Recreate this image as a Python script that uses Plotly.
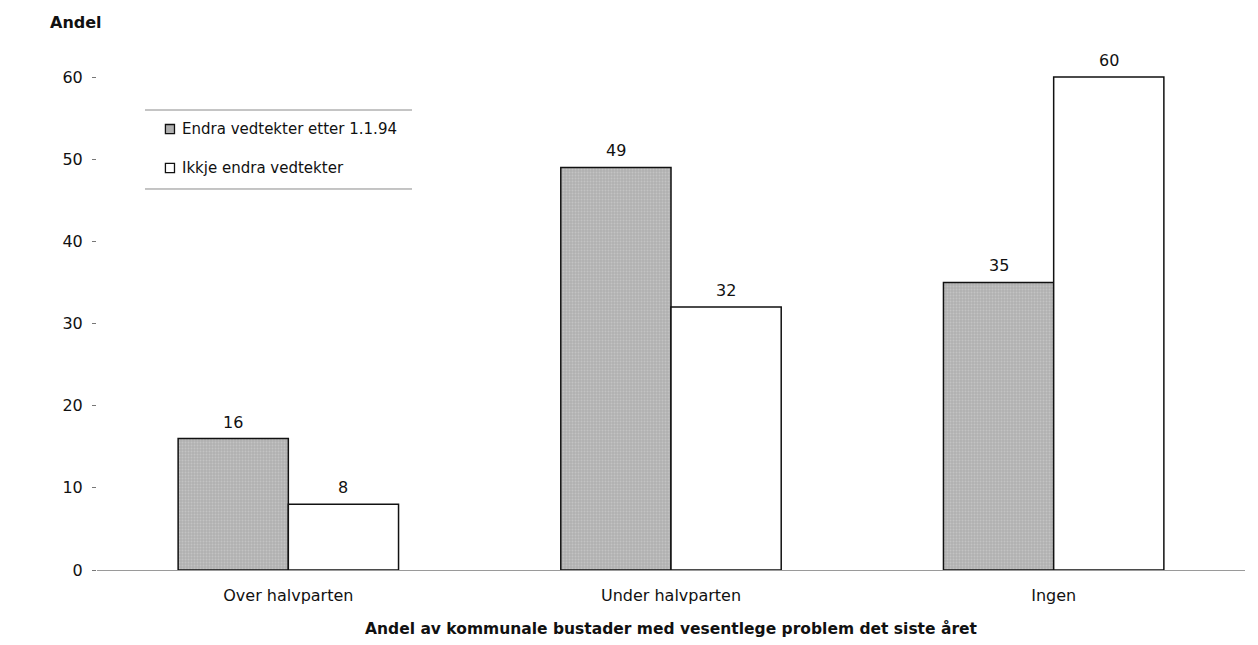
import plotly.graph_objects as go

# Data
categories = ["Over halvparten", "Under halvparten", "Ingen"]
endra = [16, 49, 35]
ikkje_endra = [8, 32, 60]
series_names = ["Endra vedtekter etter 1.1.94", "Ikkje endra vedtekter"]
y_ticks = [0, 10, 20, 30, 40, 50, 60]

FONT = "DejaVu Sans, Liberation Sans, Arial, sans-serif"
INK = "#111111"

gray_marker = dict(color="#b0b0b0", line=dict(color=INK, width=1.5),
                   pattern=dict(shape=".", fgcolor="#d6d6d6", size=3, solidity=0.35))
white_marker = dict(color="#ffffff", line=dict(color=INK, width=1.5))

fig = go.Figure()
fig.add_trace(go.Bar(x=categories, y=endra, name=series_names[0],
                     marker=gray_marker, showlegend=False))
fig.add_trace(go.Bar(x=categories, y=ikkje_endra, name=series_names[1],
                     marker=white_marker, showlegend=False))

fig.update_layout(
    width=1258, height=645,
    margin=dict(l=97, r=13, t=36, b=75),
    paper_bgcolor="white", plot_bgcolor="white",
    barmode="group", bargap=0.424, bargroupgap=0,
    font=dict(family=FONT, size=16, color=INK),
)

fig.update_xaxes(
    range=[-0.5, 2.5], showgrid=False, zeroline=False,
    showline=True, linecolor="#9a9a9a", linewidth=1,
    ticks="", tickfont=dict(size=16, family=FONT), ticklabelstandoff=11,
    title=dict(text="<b>Andel av kommunale bustader med vesentlege problem det siste året</b>",
               font=dict(size=15.5, family=FONT), standoff=18),
)
fig.update_yaxes(
    range=[0, 65], tickvals=y_ticks, showgrid=False, zeroline=False,
    showline=False, ticks="outside", ticklen=4, tickcolor="#777777",
    tickfont=dict(size=16, family=FONT), ticklabelstandoff=6,
)

# Value labels above each bar (bars are offset half a bar width from the category centre)
for vals, shift in [(endra, -55), (ikkje_endra, 55)]:
    for cat, v in zip(categories, vals):
        fig.add_annotation(x=cat, y=v, text=str(v), showarrow=False,
                           xshift=shift, yshift=5, yanchor="bottom",
                           font=dict(size=16, family=FONT, color=INK))

# Legend: swatches, labels, and top/bottom rules
legend_rows = [(0.8258, gray_marker["color"]), (0.7528, "#ffffff")]
for name, (yc, fill) in zip(series_names, legend_rows):
    fig.add_shape(type="rect", xref="paper", yref="paper",
                  x0=0.0596, x1=0.0675, y0=yc - 0.0085, y1=yc + 0.0085,
                  fillcolor=fill, line=dict(color=INK, width=1.3))
    fig.add_annotation(text=name, xref="paper", yref="paper",
                       x=0.0723, y=yc, xanchor="left", yanchor="middle",
                       showarrow=False, font=dict(size=15, family=FONT, color=INK))
for yv in [0.8614, 0.7135]:
    fig.add_shape(type="line", xref="paper", yref="paper",
                  x0=0.0418, x1=0.2744, y0=yv, y1=yv,
                  line=dict(color="#8a8a8a", width=1))

fig.add_annotation(text="<b>Andel</b>", xref="paper", yref="paper",
                   x=-0.0427, y=1.026, xanchor="left", yanchor="middle",
                   showarrow=False, font=dict(size=16, family=FONT, color=INK))

fig.write_html("out.html")
